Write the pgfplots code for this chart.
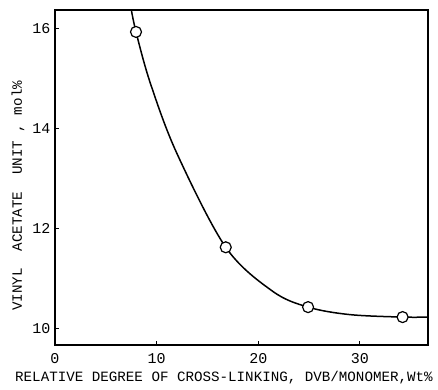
\documentclass[border=0pt]{standalone}
\usepackage{pgfplots}
\pgfplotsset{compat=1.18}
\usepackage{fontspec}
\setmainfont{Liberation Mono}
\begin{document}
\begin{tikzpicture}
\begin{axis}[
  scale only axis, width=373pt, height=335pt,
  xmin=0, xmax=36.7, ymin=9.66, ymax=16.38,
  xtick={0,10,20,30}, ytick={10,12,14,16},
  tick align=inside, xtick pos=bottom, ytick pos=left,
  major tick length=4pt,
  axis line style={line width=1.6pt},
  tick style={line width=1pt, black},
  /pgf/number format/assume math mode=true,
  tick label style={font=\fontsize{15}{15}\selectfont},
  xticklabel style={yshift=-5pt},
  yticklabel style={xshift=-1pt},
  label style={font=\fontsize{14.2}{14}\selectfont},
  xlabel={RELATIVE DEGREE OF CROSS-LINKING, DVB/MONOMER,Wt\%},
  ylabel={VINYL\ \ ACETATE\ \ UNIT , mol\%},
  xlabel style={at={(axis description cs:0.453,-0.110)}, anchor=base},
  ylabel style={at={(axis description cs:-0.0885,0.445)}, anchor=base},
  clip=true,
]
\addplot[black, line width=1.5pt, smooth, tension=0.55] coordinates {
 (7.45,16.45) (7.97,15.94) (9.4,14.9) (12.0,13.5)
 (16.8,11.62) (21.4,10.74) (24.9,10.42)
 (29.0,10.27) (34.2,10.22) (36.7,10.22)
};
\addplot[only marks, mark=*, mark size=5.5pt, mark options={fill=white, draw=black, line width=1.2pt}] coordinates {
 (7.97,15.94) (16.8,11.62) (24.9,10.42) (34.2,10.22)
};
\end{axis}
\pgfresetboundingbox
\path[use as bounding box] (-55pt,-44pt) rectangle (383pt,345pt);
\end{tikzpicture}
\end{document}
